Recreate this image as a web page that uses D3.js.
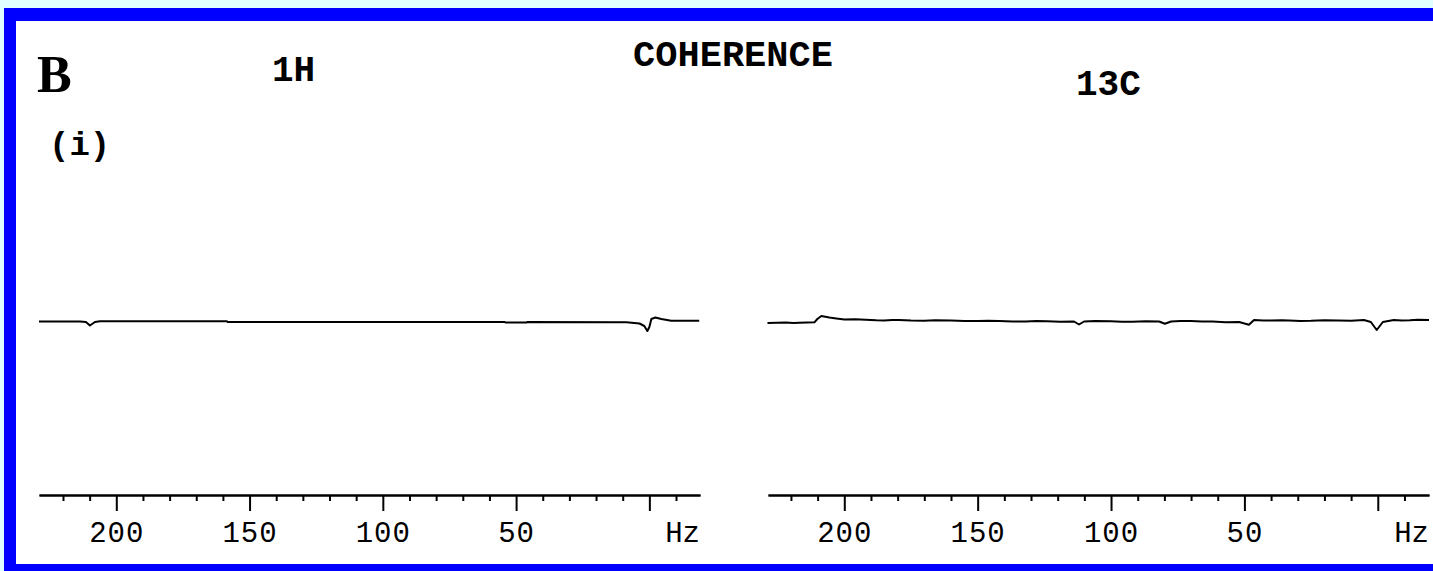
<!DOCTYPE html>
<html>
<head>
<meta charset="utf-8">
<title>Coherence</title>
<script src="https://d3js.org/d3.v7.min.js"></script>
<style>
  body { margin: 0; background: #e0ffff; }
  svg { display: block; }
</style>
</head>
<body>
<div id="canvas"></div>
<script>

// 1H trace (Hz, amplitude)
var hFreq = [229, 213.6, 211.4, 209.9, 208, 206.1, 158.5, 158.2, 54.3, 54, 46.1, 45.7, 8.6, 3.7, 1.9, 0.75, 0, -0.75, -2.25, -4.5, -8.2, -18.7];
var hAmp  = [0.5, 0.5, 0, -3.5, 0, 0.7, 0.7, 0, 0, -0.5, -0.5, 0, -0.3, -1.5, -4, -9, -5, 3, 4.5, 3, 1.2, 1.2];

// 13C trace (Hz, amplitude)
var cFreq = [228.8, 225, 222, 219, 216.9, 214, 211.2, 210.1, 208.6, 205.6, 203, 200, 196, 192, 188, 185, 182, 179.4, 175, 170, 166, 160, 155, 150, 146, 141.9, 137, 132, 128, 124, 119, 113.9, 112, 110.1, 106, 100, 96, 92, 87, 82, 79.8, 77.5, 74, 70, 66, 62, 57, 52, 48.3, 46.4, 43, 40, 36, 33.3, 29, 25, 20, 15, 10, 5.2, 2.6, 0.4, -1.9, -6, -9, -12, -15, -19.2];
var cAmp  = [-1, -0.7, -0.6, -1, -0.8, -0.4, -0.3, 3, 6, 4.5, 3.5, 2.5, 2.8, 2.2, 1.7, 1.6, 2.1, 2, 1.5, 1.3, 1.7, 1.5, 1, 0.9, 1.3, 1, 0.5, 0.6, 1, 0.8, 0.3, 0.5, -2.5, 0.5, 0.9, 0.7, 0.2, 0.3, 0.8, 0.5, -1.8, 0.5, 1, 0.9, 0.5, 0.4, -0.2, 0, -2.8, 2, 1.4, 1.4, 1.8, 1.5, 1.1, 1.2, 1.7, 1.6, 1.3, 2, 0, -8, 0, 2, 1.6, 1.8, 2.2, 2];

// 目盛り
var majorTicks = [200, 150, 100, 50, 0];
var minorTicks = [220, 210, 190, 180, 170, 160, 140, 130, 120, 110, 90, 80, 70, 60, 40, 30, 20, 10, -10];
var tickLabels = ["200", "150", "100", "50", ""];

var width = 1433;
var height = 571;
var monoFont = "'Courier New', Courier, 'Nimbus Mono PS', FreeMono, 'Liberation Mono', monospace";

var svg = d3.select("#canvas")
  .append("svg")
  .attr("width", width)
  .attr("height", height);

// 枠
svg.append("rect").attr("x", 0).attr("y", 0).attr("width", width).attr("height", height).style("fill", "#e0ffff");
svg.append("rect").attr("x", 4).attr("y", 8).attr("width", width - 4).attr("height", height - 8).style("fill", "#0000ff");
svg.append("rect").attr("x", 16).attr("y", 21).attr("width", width - 16).attr("height", 543).style("fill", "#ffffff");

// タイトル
svg.append("text").text("B").attr("x", 37).attr("y", 92)
  .style("font-family", "Liberation Serif").style("font-weight", "bold").style("font-size", "52px");
svg.append("text").text("COHERENCE").attr("x", 733).attr("y", 66).attr("text-anchor", "middle")
  .style("font-family", monoFont).style("font-weight", "bold").style("font-size", "37px");
svg.append("text").text("1H").attr("x", 272).attr("y", 81)
  .style("font-family", monoFont).style("font-weight", "bold").style("font-size", "36px");
svg.append("text").text("13C").attr("x", 1076).attr("y", 95)
  .style("font-family", monoFont).style("font-weight", "bold").style("font-size", "36px");
svg.append("text").text("(i)").attr("x", 49).attr("y", 155)
  .style("font-family", monoFont).style("font-weight", "bold").style("font-size", "34px");

var y = d3.scaleLinear().domain([-10, 10]).range([332, 312]);

drawPanel(d3.scaleLinear().domain([229, -19]).range([39, 700]), hFreq, hAmp);
drawPanel(d3.scaleLinear().domain([228.6, -19.2]).range([768, 1429]), cFreq, cAmp);

function drawPanel(x, freq, amp) {
  var pts = freq.map((f, i) => [f, amp[i]]);
  var line = d3.line().x(d => x(d[0])).y(d => y(d[1]));

  svg.append("path")
    .datum(pts)
    .attr("d", line)
    .style("fill", "none")
    .style("stroke", "#000")
    .style("stroke-width", 2)
    .style("stroke-linejoin", "round");

  var axisY = 495;
  // 小目盛り
  var gMinor = svg.append("g").attr("transform", `translate(0,${axisY})`)
    .call(d3.axisBottom(x).tickValues(minorTicks).tickSize(6).tickSizeOuter(0).tickFormat(""));
  // 大目盛り
  var gMajor = svg.append("g").attr("transform", `translate(0,${axisY})`)
    .call(d3.axisBottom(x).tickValues(majorTicks).tickSize(16).tickSizeOuter(0).tickFormat((d, i) => tickLabels[i]));

  [gMinor, gMajor].forEach(g => {
    g.select(".domain").style("stroke", "#000").style("stroke-width", 2);
    g.selectAll(".tick line").style("stroke", "#000").style("stroke-width", 2);
  });
  gMajor.selectAll(".tick text")
    .attr("y", 47).attr("dy", 0)
    .style("font-family", monoFont).style("font-size", "29px").style("letter-spacing", "1px").style("fill", "#000");

  svg.append("text").text("Hz")
    .attr("x", x.range()[1]).attr("y", axisY + 47).attr("text-anchor", "end")
    .style("font-family", monoFont).style("font-size", "29px");
}

</script>
</body>
</html>
